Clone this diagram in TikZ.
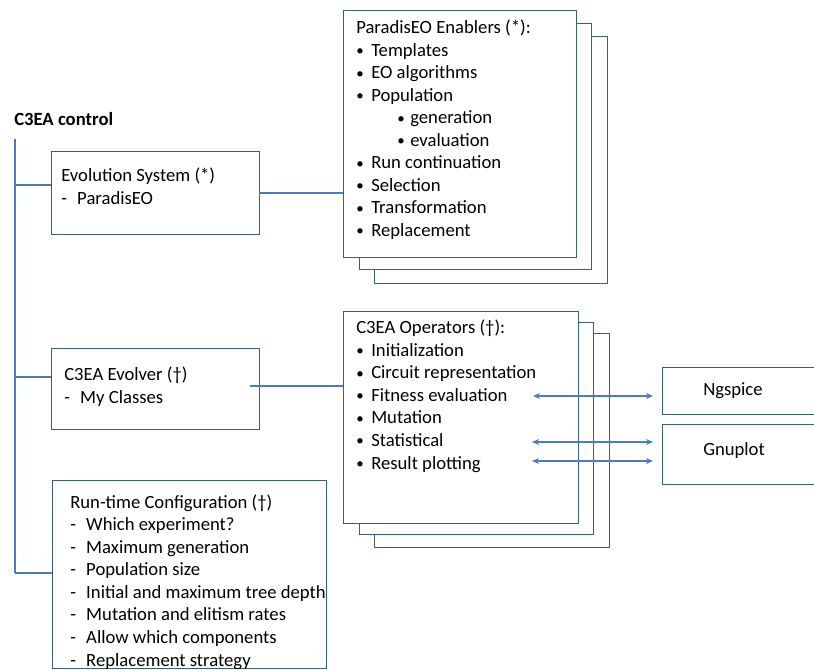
\documentclass[tikz,border=0pt]{standalone}
\usepackage{fontspec}
\setmainfont{Carlito}
\usetikzlibrary{arrows.meta}
\definecolor{boxline}{HTML}{385D8A}
\definecolor{wire}{HTML}{4A7EBB}
% one unit = one pixel of the layout grid
\newlength{\pxu}\setlength{\pxu}{0.75pt}
\newcommand{\bul}[1]{\makebox[15\pxu][l]{\raisebox{0.5pt}{\scalebox{0.8}{•}}}#1}
\newcommand{\subbul}[1]{\hspace*{41\pxu}\makebox[13\pxu][l]{\raisebox{0.5pt}{\scalebox{0.8}{•}}}#1}
\newcommand{\dsh}[1]{\makebox[16\pxu][l]{-}#1}
\tikzset{
  panel/.style={draw=boxline, line width=1.1pt, fill=white, inner sep=0pt, anchor=north west},
  wireline/.style={draw=wire, line width=1.1pt},
  twoway/.style={wireline, {Stealth[length=5.25pt,width=4.5pt]}-{Stealth[length=5.25pt,width=4.5pt]}},
  % anchored at the baseline of the last line of each block
  txt/.style={inner sep=0pt, anchor=base west, align=left,
    font=\fontsize{14}{16.9}\selectfont},
}
\begin{document}
\begin{tikzpicture}[x=0.75pt, y=-0.75pt]
\useasboundingbox (0,0) rectangle (814,669);
\clip (0,0) rectangle (814,669);

% title and control spine
\node[inner sep=0pt, anchor=west, font=\fontsize{14}{16}\selectfont\bfseries] (ctl) at (14,119) {C3EA control};
\coordinate (spinetop) at (15,139);
\coordinate (spinebot) at (15,573);

% left column boxes
\node[panel, minimum width=208*0.75pt, minimum height=83*0.75pt] (evo) at (51,151) {};
\node[panel, minimum width=208*0.75pt, minimum height=81*0.75pt] (evl) at (51,348) {};
\node[panel, minimum width=274*0.75pt, minimum height=188*0.75pt] (cfg) at (52,480) {};

% ParadisEO enablers stack
\node[panel, minimum width=233*0.75pt, minimum height=247*0.75pt] (enab2) at (374,36) {};
\node[panel, minimum width=232*0.75pt, minimum height=246*0.75pt] (enab1) at (359,23) {};
\node[panel, minimum width=233*0.75pt, minimum height=247*0.75pt] (enab) at (343,10) {};

% C3EA operators stack
\node[panel, minimum width=235*0.75pt, minimum height=214*0.75pt] (ops2) at (374,333) {};
\node[panel, minimum width=234*0.75pt, minimum height=212*0.75pt] (ops1) at (359,322) {};
\node[panel, minimum width=235*0.75pt, minimum height=212*0.75pt] (ops) at (343,311) {};

% external tools
\node[panel, minimum width=170*0.75pt, minimum height=47*0.75pt] (ngs) at (662,367) {};
\node[panel, minimum width=170*0.75pt, minimum height=60*0.75pt] (gnu) at (662,424) {};

% texts
\node[txt] (evotxt) at (61,204) {Evolution System (*)\\\dsh{ParadisEO}};
\node[txt] (evltxt) at (64,403) {C3EA Evolver (†)\\\dsh{My Classes}};
\node[txt] (cfgtxt) at (70,666) {Run-time Configuration (†)\\
  \dsh{Which experiment?}\\
  \dsh{Maximum generation}\\
  \dsh{Population size}\\
  \dsh{Initial and maximum tree depth}\\
  \dsh{Mutation and elitism rates}\\
  \dsh{Allow which components}\\
  \dsh{Replacement strategy}};
\node[txt] (enabtxt) at (356,236.5) {ParadisEO Enablers (*):\\
  \bul{Templates}\\
  \bul{EO algorithms}\\
  \bul{Population}\\
  \subbul{generation}\\
  \subbul{evaluation}\\
  \bul{Run continuation}\\
  \bul{Selection}\\
  \bul{Transformation}\\
  \bul{Replacement}};
\node[txt] (opstxt) at (356,469) {C3EA Operators (†):\\
  \bul{Initialization}\\
  \bul{Circuit representation}\\
  \bul{Fitness evaluation}\\
  \bul{Mutation}\\
  \bul{Statistical}\\
  \bul{Result plotting}};
\node[txt, anchor=west] (ngstxt) at (703,391) {Ngspice};
\node[txt, anchor=west] (gnutxt) at (703,451) {Gnuplot};

% control spine and its branches
\draw[wireline] (spinetop) -- (spinebot);
\draw[wireline] (spinetop |- 0,185) -- (evo.west |- 0,185);
\draw[wireline] (spinetop |- 0,377) -- (evl.west |- 0,377);
\draw[wireline] (spinebot) -- (cfg.west |- spinebot);

% links to the stacks
\coordinate (evoout) at (259,193);
\draw[wireline] (evoout) -- (evoout -| enab.west);
\coordinate (evlout) at (250,386);
\draw[wireline] (evlout) -- (evlout -| ops.west);

% tool calls
\coordinate (fitA) at (533,396);
\coordinate (fitB) at (653,396);
\coordinate (statA) at (532,442);
\coordinate (statB) at (653,442);
\coordinate (plotA) at (532,461);
\coordinate (plotB) at (653,461);
\draw[twoway] (fitA) -- (fitB);
\draw[twoway] (statA) -- (statB);
\draw[twoway] (plotA) -- (plotB);
\end{tikzpicture}
\end{document}
